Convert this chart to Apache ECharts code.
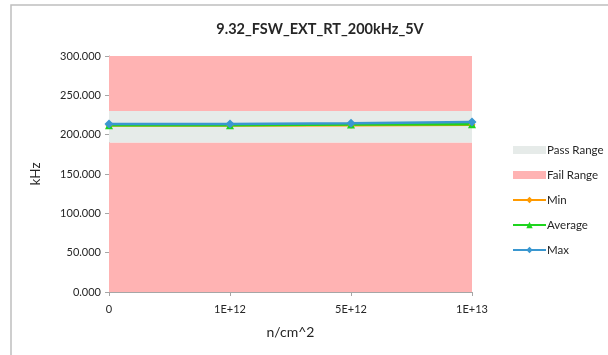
<!DOCTYPE html>
<html>
<head>
<meta charset="utf-8">
<script src="https://cdn.jsdelivr.net/npm/echarts@6/dist/echarts.min.js"></script>
<style>
  html, body { margin: 0; padding: 0; background: #fff; }
  #chart { width: 608px; height: 355px; }
</style>
</head>
<body>
<div id="chart"></div>
<script>
// fluence steps on the x axis
const categories = ['0', '1E+12', '5E+12', '1E+13'];

// measured switching frequency, kHz
const minValues = [211.5, 211.5, 212.0, 212.5];
const avgValues = [212.0, 212.0, 212.8, 213.3];
const maxValues = [213.5, 213.5, 214.5, 216.0];

// spec limits, kHz
const passLow = 190;
const passHigh = 230;
const axisMax = 300;
const yTicks = [0, 50, 100, 150, 200, 250, 300];

const FONT = 'Lato, "Liberation Sans", sans-serif';
const TEXT = '#262626';

const failBottom = categories.map(() => passLow);
const passBand = categories.map(() => passHigh - passLow);
const failTop = categories.map(() => axisMax - passHigh);

function band(name, values, color) {
  return {
    name,
    type: 'line',
    stack: 'range',
    data: values,
    symbol: 'none',
    lineStyle: { width: 0 },
    areaStyle: { color, opacity: 1 },
    itemStyle: { color },
    silent: true,
    z: 1,
  };
}

function measured(name, values, color, symbol, size) {
  return {
    name,
    type: 'line',
    data: values,
    symbol,
    symbolSize: size,
    lineStyle: { color, width: 2.5 },
    itemStyle: { color },
    z: 3,
  };
}

const chart = echarts.init(document.getElementById('chart'), null, { renderer: 'canvas' });
chart.setOption({
  animation: false,
  backgroundColor: '#fff',
  title: {
    text: '9.32_FSW_EXT_RT_200kHz_5V',
    left: 315,
    textAlign: 'center',
    top: 17,
    textStyle: { fontFamily: FONT, fontSize: 14.5, fontWeight: 'bold', color: TEXT },
  },
  graphic: [{
    type: 'rect',
    shape: { x: 11, y: 5, width: 700, height: 500 },
    style: { fill: 'none', stroke: '#bfbfbf', lineWidth: 1.5 },
    silent: true,
  }],
  grid: { left: 109, right: 136, top: 56, bottom: 63 },
  legend: {
    orient: 'vertical',
    left: 507,
    top: 139,
    itemWidth: 33,
    itemHeight: 8,
    itemGap: 13,
    textStyle: { fontFamily: FONT, fontSize: 11.5, color: TEXT, padding: [0, 0, 0, -4] },
    data: [
      { name: 'Pass Range', icon: 'rect' },
      { name: 'Fail Range', icon: 'rect' },
      { name: 'Min' },
      { name: 'Average' },
      { name: 'Max' },
    ],
  },
  xAxis: {
    type: 'category',
    data: categories,
    boundaryGap: false,
    name: 'n/cm^2',
    nameLocation: 'middle',
    nameGap: 33,
    nameTextStyle: { fontFamily: FONT, fontSize: 14, color: TEXT },
    axisLine: { lineStyle: { color: '#a6a6a6' } },
    axisTick: { show: true, length: 4, inside: false, alignWithLabel: true, lineStyle: { color: '#a6a6a6' } },
    axisLabel: { fontFamily: FONT, fontSize: 11, color: TEXT, margin: 12 },
    splitLine: { show: false },
  },
  yAxis: {
    type: 'value',
    min: yTicks[0],
    max: yTicks[yTicks.length - 1],
    interval: yTicks[1] - yTicks[0],
    name: 'kHz',
    nameLocation: 'middle',
    nameGap: 66,
    nameTextStyle: { fontFamily: FONT, fontSize: 13.5, color: TEXT },
    axisLine: { show: true, lineStyle: { color: '#a6a6a6' } },
    axisTick: { show: true, length: 4, lineStyle: { color: '#a6a6a6' } },
    axisLabel: {
      fontFamily: FONT, fontSize: 11, color: TEXT, margin: 8,
      formatter: (v) => v.toFixed(3),
    },
    splitLine: { show: false },
  },
  series: [
    band('Fail Range', failBottom, '#ffb3b3'),
    band('Pass Range', passBand, '#e6ebe9'),
    band('Fail Range', failTop, '#ffb3b3'),
    measured('Min', minValues, '#ff9a00', 'diamond', 7),
    measured('Average', avgValues, '#1ed41e', 'triangle', 8),
    measured('Max', maxValues, '#3a97d0', 'diamond', 9),
  ],
});
</script>
</body>
</html>
